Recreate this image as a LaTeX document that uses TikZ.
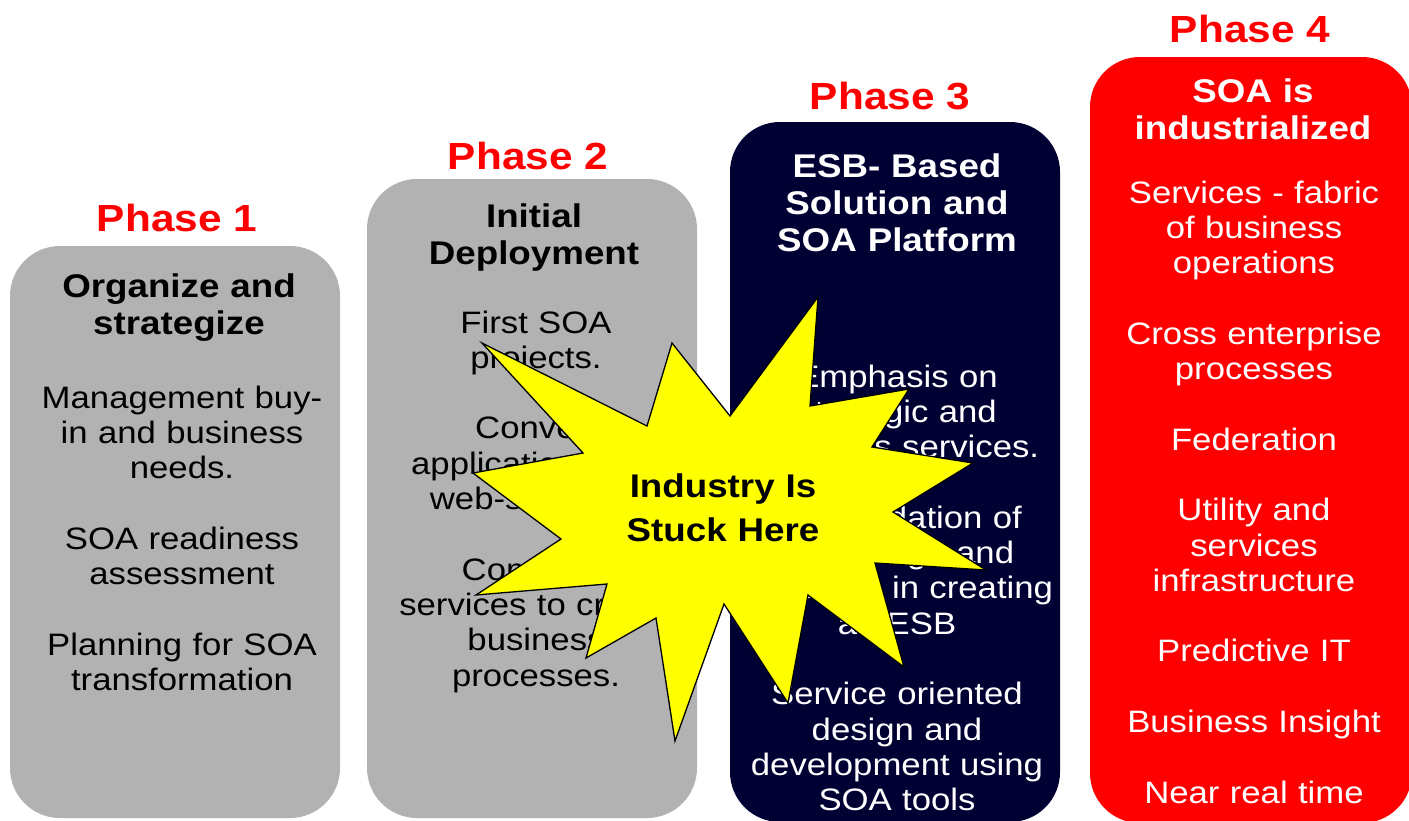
\documentclass[tikz,border=0pt]{standalone}
\usepackage{fontspec}
\setmainfont{Liberation Sans}[FakeStretch=1.12]
\definecolor{boxgray}{HTML}{B2B2B2}
\definecolor{boxnavy}{HTML}{000033}
\definecolor{boxred}{HTML}{FF0000}
\definecolor{staryellow}{HTML}{FFFF00}
\tikzset{
  phasebox/.style={rounded corners=50pt, draw=none, anchor=north west, inner sep=0pt, outer sep=0pt},
  phaselabel/.style={anchor=base, text=boxred, inner sep=0pt, font=\fontsize{37.8}{44}\selectfont\bfseries},
  boxtitle/.style={anchor=base, align=center, text width=330pt, inner sep=0pt, font=\fontsize{32.8}{37}\selectfont\bfseries},
  boxbody/.style={anchor=base, align=center, text width=330pt, inner sep=0pt, font=\fontsize{31}{35.3}\selectfont},
  burst/.style={fill=staryellow, draw=black, line width=1.3pt, line join=miter},
  bursttext/.style={anchor=base, align=center, text width=300pt, inner sep=0pt, font=\fontsize{32.8}{44}\selectfont\bfseries}
}
\newcommand\pgap{\\[35.3pt]}
\begin{document}
\begin{tikzpicture}[x=1pt,y=-1pt]
\useasboundingbox (0,0) rectangle (1409,820);
% boxes
\node[phasebox, fill=boxgray, minimum width=330pt, minimum height=572pt] (box1) at (10,246) {};
\node[phasebox, fill=boxgray, minimum width=330pt, minimum height=639pt] (box2) at (367,179) {};
\node[phasebox, fill=boxnavy, minimum width=330pt, minimum height=700pt] (box3) at (730,122) {};
\node[phasebox, fill=boxred, minimum width=322pt, minimum height=766pt] (box4) at (1090,57) {};
% phase labels
\node[phaselabel] (lab1) at (177,231) {Phase 1};
\node[phaselabel] (lab2) at (528,169) {Phase 2};
\node[phaselabel] (lab3) at (890,109) {Phase 3};
\node[phaselabel] (lab4) at (1250,42) {Phase 4};
% titles
\node[boxtitle] (tit1) at (179,297) {Organize and\\strategize};
\node[boxtitle] (tit2) at (534,227) {Initial\\Deployment};
\node[boxtitle, text=white] (tit3) at (897,177) {ESB- Based\\Solution and\\SOA Platform};
\node[boxtitle, text=white] (tit4) at (1253,102) {SOA is\\industrialized};
% bodies
\node[boxbody] (body1) at (182,408) {Management buy-\\in and business\\needs.\pgap SOA readiness\\assessment\pgap Planning for SOA\\transformation};
\node[boxbody] (body2) at (536,333) {First SOA\\projects.\pgap Convert\\applications into\\web-services.\pgap Compose\\services to create\\business\\processes.};
\node[boxbody, text=white] (body3) at (897,387) {Emphasis on\\strategic and\\business services.\pgap Consolidation of\\knowledge and\\expertise in creating\\an ESB\pgap Service oriented\\design and\\development using\\SOA tools};
\node[boxbody, text=white] (body4) at (1254,203) {Services - fabric\\of business\\operations\pgap Cross enterprise\\processes\pgap Federation\pgap Utility and\\services\\infrastructure\pgap Predictive IT\pgap Business Insight\pgap Near real time};
% starburst
\draw[burst] (818,297) -- (810,406) -- (909,389) -- (872,447) -- (973,463) -- (893,512)
  -- (986,570) -- (875,563) -- (904,667) -- (808,595) -- (788,703) -- (724,604)
  -- (675,741) -- (656,618) -- (586,658) -- (607,584) -- (476,595) -- (561,539)
  -- (473,473) -- (583,453) -- (482,343) -- (647,426) -- (672,343) -- (730,416) -- cycle;
\node[bursttext] (stuck) at (723,497) {Industry Is\\Stuck Here};
\end{tikzpicture}
\end{document}
